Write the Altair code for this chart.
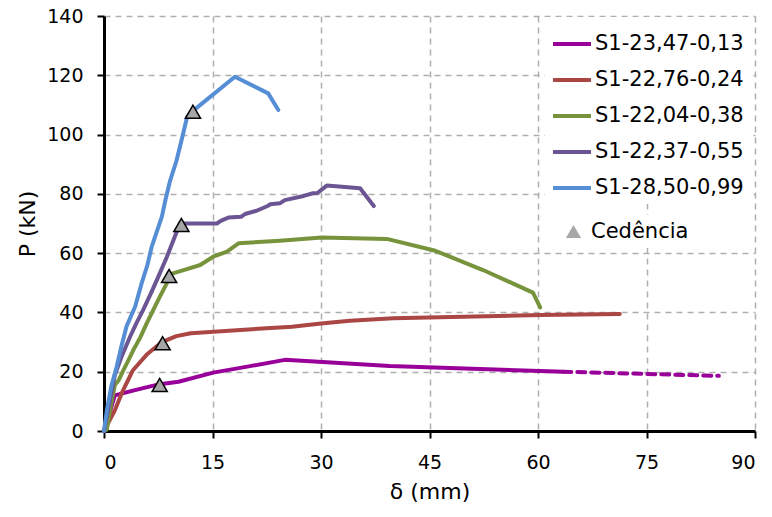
import altair as alt
import pandas as pd

series_names = ["S1-23,47-0,13", "S1-22,76-0,24", "S1-22,04-0,38", "S1-22,37-0,55", "S1-28,50-0,99"]
series_colors = ["#990099", "#AA4643", "#77933C", "#6B5592", "#558ED5"]

s1_x = [0, 1.5, 4.0, 7.7, 10.3, 15.1, 20.0, 25.0, 39.5, 63.5]
s1_y = [0, 12.0, 13.6, 15.8, 16.6, 19.7, 21.8, 24.0, 21.9, 20.0]
s1_dash_x = [63.5, 85.0]
s1_dash_y = [20.0, 18.6]

s2_x = [0, 1.5, 2.5, 4.0, 6.0, 8.0, 10.0, 12.0, 26.0, 30.0, 34.0, 40.0, 60.3, 71.3]
s2_y = [0, 7.0, 13.0, 20.5, 26.0, 30.0, 32.0, 33.0, 35.2, 36.3, 37.2, 38.0, 39.1, 39.5]

s3_x = [0, 0.4, 0.9, 1.5, 2.0, 2.7, 3.3, 4.05, 5.0, 5.9, 7.5, 8.9, 9.3, 11.0, 13.3, 15.1, 17.0, 18.6, 24.3, 30.1, 39.1, 45.8, 52.4, 59.3, 60.3]
s3_y = [0, 0.5, 8.0, 15.5, 17.0, 20.6, 23.5, 27.3, 31.5, 36.3, 44.2, 50.9, 53.0, 54.3, 56.0, 58.8, 60.5, 63.3, 64.2, 65.3, 64.8, 60.8, 54.3, 46.7, 41.7]

s4_x = [0, 0.8, 1.5, 2.5, 3.6, 4.5, 5.4, 6.5, 7.5, 8.7, 9.8, 10.5, 15.6, 16.2, 17.2, 19.0, 19.5, 21.1, 22.7, 23.0, 24.3, 25.0, 27.6, 28.9, 29.5, 30.8, 35.4, 37.3]
s4_y = [0, 10.0, 18.9, 25.5, 31.8, 36.5, 40.8, 46.5, 52.0, 58.8, 65.6, 70.0, 70.0, 71.0, 72.0, 72.3, 73.2, 74.3, 76.0, 76.5, 76.8, 77.9, 79.3, 80.2, 80.3, 82.8, 81.9, 75.9]

s5_x = [0, 0.4, 1.0, 1.75, 2.4, 3.1, 4.3, 5.2, 6.0, 6.6, 8.0, 8.5, 9.1, 10.0, 10.5, 11.5, 12.3, 18.1, 22.7, 24.1]
s5_y = [0, 7.0, 15.0, 21.7, 28.5, 35.2, 41.9, 49.8, 56.0, 62.2, 72.3, 78.0, 84.1, 91.0, 95.9, 106.0, 108.0, 119.5, 113.9, 108.3]

yield_x = [7.7, 8.1, 9.0, 10.7, 12.3]
yield_y = [15.5, 29.6, 52.3, 69.5, 107.7]
yield_label = "Cedência"

x_ticks = [0, 15, 30, 45, 60, 75, 90]
y_ticks = [0, 20, 40, 60, 80, 100, 120, 140]

rows = []
for name, xs, ys in zip(series_names, [s1_x, s2_x, s3_x, s4_x, s5_x], [s1_y, s2_y, s3_y, s4_y, s5_y]):
    for i, (a, b) in enumerate(zip(xs, ys)):
        rows.append({"serie": name, "x": a, "y": b, "i": i})
lines_df = pd.DataFrame(rows)
dash_df = pd.DataFrame({"x": s1_dash_x, "y": s1_dash_y, "i": list(range(len(s1_dash_x)))})
yield_df = pd.DataFrame({"x": yield_x, "y": yield_y, "k": [yield_label] * len(yield_x)})

FONT = "DejaVu Sans"

x_enc = alt.X("x:Q", scale=alt.Scale(domain=[0, 90], nice=False),
              axis=alt.Axis(values=x_ticks, title="δ (mm)", labelPadding=15, titlePadding=9))
y_enc = alt.Y("y:Q", scale=alt.Scale(domain=[0, 140], nice=False),
              axis=alt.Axis(values=y_ticks, title="P (kN)", labelPadding=14, titlePadding=7))

lines = alt.Chart(lines_df).mark_line(strokeWidth=4, strokeCap="round", strokeJoin="round").encode(
    x=x_enc,
    y=y_enc,
    order=alt.Order("i:Q"),
    color=alt.Color("serie:N", scale=alt.Scale(domain=series_names, range=series_colors),
                    sort=series_names,
                    legend=alt.Legend(title=None, orient="none", legendX=441, legendY=1,
                                      symbolType="stroke", symbolSize=1444, symbolStrokeWidth=4,
                                      labelFontSize=21, labelFont=FONT, labelColor="black",
                                      labelOffset=2, rowPadding=5, padding=6,
                                      fillColor="white", labelLimit=300)),
)

dashed = alt.Chart(dash_df).mark_line(strokeWidth=4, strokeDash=[8, 6], strokeCap="round",
                                      color=series_colors[0]).encode(
    x="x:Q", y="y:Q", order=alt.Order("i:Q"))

points = alt.Chart(yield_df).mark_point(shape="triangle-up", size=230, filled=False,
                                        fill="#A6A6A6", fillOpacity=1, stroke="black",
                                        strokeWidth=1.5, opacity=1).encode(
    x="x:Q", y="y:Q",
    shape=alt.Shape("k:N", scale=alt.Scale(domain=[yield_label], range=["triangle-up"]),
                    legend=alt.Legend(title=None, orient="none", legendX=453, legendY=199,
                                      symbolSize=230, symbolFillColor="#A6A6A6",
                                      symbolStrokeColor="black", symbolStrokeWidth=1.5,
                                      symbolOpacity=1,
                                      labelFontSize=21, labelFont=FONT, labelColor="black",
                                      labelOffset=7, padding=6, fillColor="white")),
)

chart = alt.layer(lines, dashed, points).properties(
    width=651, height=415,
    background="white",
    autosize=alt.AutoSizeParams(type="none"),
    padding={"left": 104, "top": 16, "right": 17, "bottom": 86},
).configure_view(stroke=None).configure_axis(
    domainColor="black", domainWidth=3,
    tickColor="black", tickWidth=2, tickSize=7,
    labelFont=FONT, labelFontSize=19, labelColor="black",
    titleFont=FONT, titleFontSize=22, titleFontWeight="normal", titleColor="black",
    gridColor="#AFAFAF", gridDash=[6, 5], gridWidth=1.5,
)

chart.save("out.html", embed_options={"renderer": "svg", "actions": False})
